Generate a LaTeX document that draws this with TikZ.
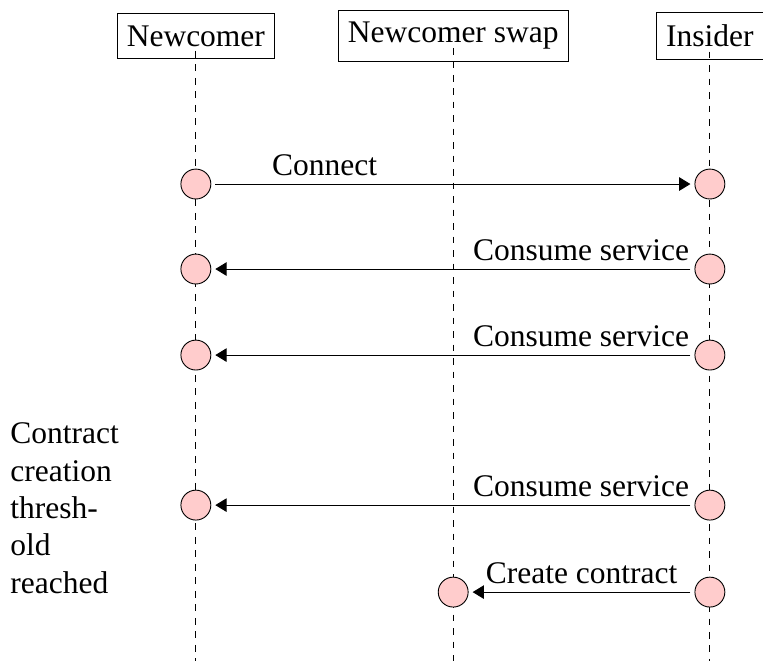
\documentclass[tikz,border=0pt]{standalone}
\usepackage{fontspec}
\setmainfont{Liberation Serif}
\usepackage{tikz}
\usetikzlibrary{arrows.meta}
\definecolor{eventfill}{HTML}{FFCCCC}

\begin{document}
\begin{tikzpicture}[every node/.style={font=\fontsize{14}{16.6}\selectfont},
  actor/.style={draw, rectangle, inner xsep=4.3pt, inner ysep=5.4pt},
  event/.style={draw, circle, fill=eventfill, minimum size=13.3pt, inner sep=0pt, outer sep=2pt},
  lifeline/.style={dashed, shorten <=2.2pt},
  msg/.style={-{Triangle[length=5pt,width=6pt]}}]
  \useasboundingbox (0,0) rectangle (11.92,-10.33);
  \coordinate (bottom) at (0,-10.33);

  \node[actor] (nc) at (3.06,-0.56) {Newcomer};
  \node[actor] (sw) at (7.08,-0.56) {Newcomer swap};
  \node[actor] (in) at (11.09,-0.56) {Insider};

  \draw[lifeline] (nc.base) -- (nc.base |- bottom);
  \draw[lifeline] (sw.base) -- (sw.base |- bottom);
  \draw[lifeline] (in.base) -- (in.base |- bottom);

  \node[event] (nc1) at (3.06,-2.875) {};
  \node[event] (nc2) at (3.06,-4.203) {};
  \node[event] (nc3) at (3.06,-5.547) {};
  \node[event] (nc4) at (3.06,-7.891) {};
  \node[event] (sw5) at (7.08,-9.25) {};
  \node[event] (in1) at (11.09,-2.875) {};
  \node[event] (in2) at (11.09,-4.203) {};
  \node[event] (in3) at (11.09,-5.547) {};
  \node[event] (in4) at (11.09,-7.891) {};
  \node[event] (in5) at (11.09,-9.25) {};

  \draw[msg] (nc1) -- node[above, pos=0.23] {Connect} (in1);
  \draw[msg] (in2) -- node[above, pos=0.23] {Consume service} (nc2);
  \draw[msg] (in3) -- node[above, pos=0.23] {Consume service} (nc3);
  \draw[msg] (in4) -- node[above, pos=0.23] {Consume service} (nc4);
  \draw[msg] (in5) -- node[above] {Create contract} (sw5);

  \node[anchor=north west, inner sep=0pt, align=left] (note) at (0.156,-6.6)
    {Contract\\creation\\thresh-\\old\\reached};
\end{tikzpicture}
\end{document}
